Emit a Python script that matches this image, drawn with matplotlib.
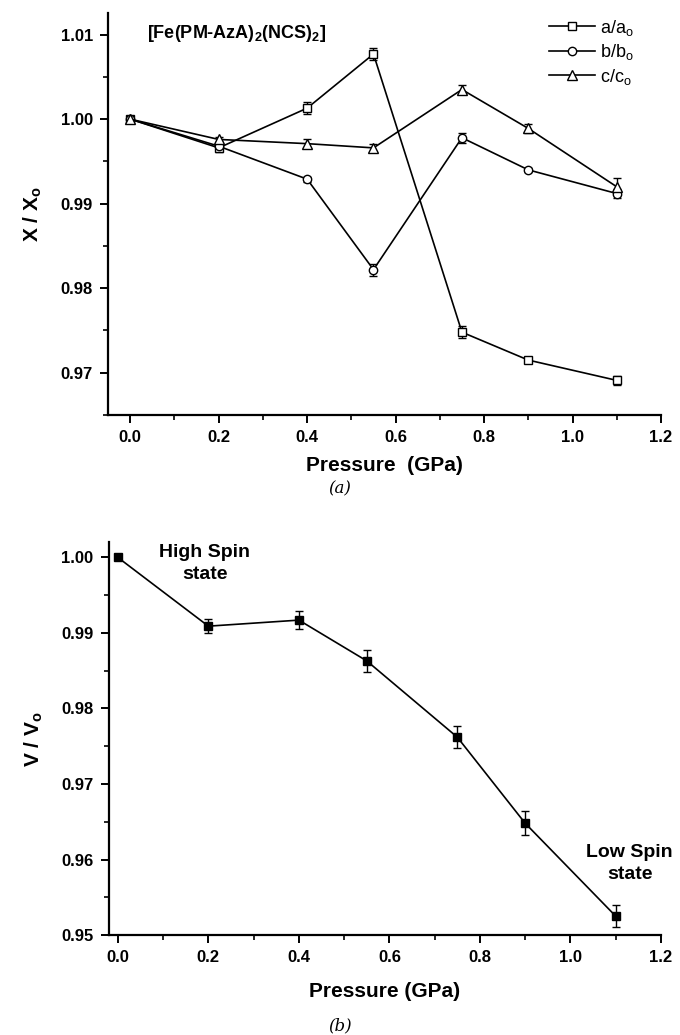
import matplotlib
matplotlib.use("Agg")
import matplotlib.pyplot as plt
from matplotlib.ticker import MultipleLocator

plt.rcParams['font.family'] = ['Liberation Sans', 'DejaVu Sans']
plt.rcParams['mathtext.fontset'] = 'custom'
plt.rcParams['mathtext.rm'] = 'Liberation Sans'
plt.rcParams['mathtext.bf'] = 'Liberation Sans:bold'

# Data
pressure = [0.0, 0.2, 0.4, 0.55, 0.75, 0.9, 1.1]

a_ratio = [1.0000, 0.9966, 1.0013, 1.0077, 0.9748, 0.9715, 0.9691]
a_err = [0.0002, 0.0005, 0.0007, 0.0007, 0.0007, 0.0004, 0.0005]
b_ratio = [1.0000, 0.9968, 0.9929, 0.9822, 0.9978, 0.9940, 0.9912]
b_err = [0.0002, 0.0003, 0.0003, 0.0007, 0.0006, 0.0002, 0.0005]
c_ratio = [1.0000, 0.9976, 0.9971, 0.9966, 1.0035, 0.9989, 0.9920]
c_err = [0.0002, 0.0003, 0.0005, 0.0005, 0.0005, 0.0005, 0.0010]

v_ratio = [1.0000, 0.9909, 0.9917, 0.9863, 0.9762, 0.9648, 0.9525]
v_err = [0.0002, 0.0009, 0.0012, 0.0015, 0.0015, 0.0016, 0.0015]

x_ticks = [0.0, 0.2, 0.4, 0.6, 0.8, 1.0, 1.2]


def style_axes(ax):
    for s in ['top', 'right']:
        ax.spines[s].set_visible(False)
    for s in ['left', 'bottom']:
        ax.spines[s].set_linewidth(1.6)
    ax.tick_params(which='major', direction='out', length=6, width=1.4,
                   labelsize=12, pad=5)
    ax.tick_params(which='minor', direction='out', length=3.5, width=1.2)
    ax.xaxis.set_minor_locator(MultipleLocator(0.1))
    ax.yaxis.set_minor_locator(MultipleLocator(0.005))
    ax.set_xticks(x_ticks)
    ax.set_xticklabels([f"{t:.1f}" for t in x_ticks])
    for lab in ax.get_xticklabels() + ax.get_yticklabels():
        lab.set_fontweight('bold')


fig = plt.figure(figsize=(6.8, 10.35), dpi=100)

# (a)
ax1 = fig.add_axes([0.159, 0.599, 0.813, 0.388])
style_axes(ax1)
kw = dict(color='black', lw=1.2, mfc='white', mec='black', mew=1.0,
          capsize=3, elinewidth=1.0, capthick=1.0)
ax1.errorbar(pressure, a_ratio, yerr=a_err, marker='s', ms=6, label=r'a/a$_\mathregular{o}$', **kw)
ax1.errorbar(pressure, b_ratio, yerr=b_err, marker='o', ms=6, label=r'b/b$_\mathregular{o}$', **kw)
ax1.errorbar(pressure, c_ratio, yerr=c_err, marker='^', ms=7, label=r'c/c$_\mathregular{o}$', **kw)
ax1.set_xlim(-0.05, 1.2)
ax1.set_ylim(0.965, 1.0125)
ax1.set_yticks([0.97, 0.98, 0.99, 1.00, 1.01])
ax1.set_yticklabels(['0.97', '0.98', '0.99', '1.00', '1.01'])
for lab in ax1.get_yticklabels():
    lab.set_fontweight('bold')
ax1.set_xlabel('Pressure  (GPa)', fontsize=15, fontweight='bold', labelpad=8)
ax1.set_ylabel(r'X / X$_\mathbf{o}$', fontsize=15, fontweight='bold', labelpad=12)
ax1.text(0.07, 0.975, r'[Fe(PM-AzA)$_\mathbf{2}$(NCS)$_\mathbf{2}$]', transform=ax1.transAxes,
         fontsize=13, fontweight='bold', va='top')
handles, labels = ax1.get_legend_handles_labels()
handles = [h[0] for h in handles]
ax1.legend(handles, labels, loc='upper right', frameon=False, fontsize=13,
           handlelength=2.5, handletextpad=0.3, labelspacing=0.25,
           bbox_to_anchor=(0.98, 1.03))
fig.text(0.5, 0.523, '(a)', fontsize=12, fontstyle='italic', family='DejaVu Serif', ha='center')

# (b)
ax2 = fig.add_axes([0.160, 0.0966, 0.812, 0.3794])
style_axes(ax2)
ax2.errorbar(pressure, v_ratio, yerr=v_err, marker='s', color='black', lw=1.2,
             ms=6, capsize=3, elinewidth=1.0, capthick=1.0)
ax2.set_xlim(-0.02, 1.2)
ax2.set_ylim(0.95, 1.002)
ax2.set_yticks([0.95, 0.96, 0.97, 0.98, 0.99, 1.00])
ax2.set_yticklabels(['0.95', '0.96', '0.97', '0.98', '0.99', '1.00'])
for lab in ax2.get_yticklabels():
    lab.set_fontweight('bold')
ax2.set_xlabel('Pressure (GPa)', fontsize=15, fontweight='bold', labelpad=12)
ax2.set_ylabel(r'V / V$_\mathbf{o}$', fontsize=15, fontweight='bold', labelpad=12)
ax2.text(0.192, 0.9992, 'High Spin\nstate', fontsize=14, fontweight='bold',
         ha='center', va='center', linespacing=1.35)
ax2.text(1.131, 0.9595, 'Low Spin\nstate', fontsize=14, fontweight='bold',
         ha='center', va='center', linespacing=1.35, clip_on=False)
fig.text(0.5, 0.004, '(b)', fontsize=12, fontstyle='italic', family='DejaVu Serif', ha='center')

fig.savefig('out.png', dpi=100)
